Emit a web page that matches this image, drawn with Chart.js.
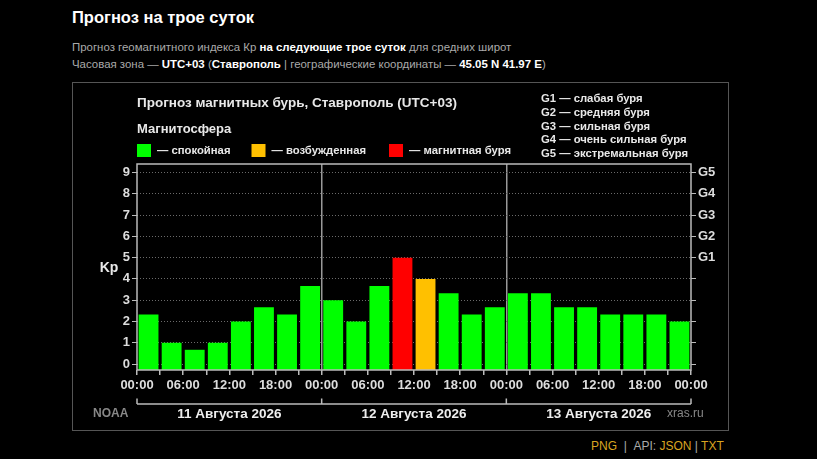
<!DOCTYPE html>
<html lang="ru">
<head>
<meta charset="utf-8">
<title>Прогноз на трое суток</title>
<script src="https://cdn.jsdelivr.net/npm/chart.js@4.4.1/dist/chart.umd.min.js"></script>
<style>
  body { margin: 0; background: #000; width: 817px; height: 459px; overflow: hidden;
         font-family: "Liberation Sans", Arial, sans-serif; color: #aaa; }
  h1 { position: absolute; left: 72px; top: 7px; margin: 0; font-size: 16.5px; line-height: 20px; color: #fff; }
  .sub { position: absolute; left: 72px; font-size: 11.45px; line-height: 14px; color: #aaa; white-space: nowrap; }
  .sub b { color: #fff; }
  #box { position: absolute; left: 72px; top: 82px; width: 655px; height: 347px; border: 1px solid #555; }
  #foot { position: absolute; left: 591px; top: 439px; font-size: 12px; line-height: 14px; color: #aaa; white-space: nowrap; }
  #foot span { color: #d9a520; }
</style>
</head>
<body>
<h1>Прогноз на трое суток</h1>
<div class="sub" style="top:40px">Прогноз геомагнитного индекса Кр <b>на следующие трое суток</b> для средних широт</div>
<div class="sub" style="top:57px">Часовая зона — <b>UTC+03</b> (<b>Ставрополь</b> | географические координаты — <b>45.05 N 41.97 E</b>)</div>
<div id="box"><canvas id="kpChart"></canvas></div>
<div id="foot"><span>PNG</span> &nbsp;| &nbsp;API: <span>JSON</span> | <span>TXT</span></div>

<script>
// Kp every 3 hours, 11-13 August 2026
const kpValues = [
	2.33, 1.00, 0.67, 1.00, 2.00, 2.67, 2.33, 3.67,
	3.00, 2.00, 3.67, 5.00, 4.00, 3.33, 2.33, 2.67,
	3.33, 3.33, 2.67, 2.67, 2.33, 2.33, 2.33, 2.00
];
const hourLabels = ['00:00', '06:00', '12:00', '18:00', '00:00', '06:00', '12:00', '18:00', '00:00', '06:00', '12:00', '18:00', '00:00'];
const dayLabels = ['11 Августа 2026', '12 Августа 2026', '13 Августа 2026'];
const kpTicks = [0, 1, 2, 3, 4, 5, 6, 7, 8, 9];
const gLabels = ['G1', 'G2', 'G3', 'G4', 'G5'];
const gNames = ['слабая буря', 'средняя буря', 'сильная буря', 'очень сильная буря', 'экстремальная буря'];
const levelNames = ['спокойная', 'возбужденная', 'магнитная буря'];
const levelColors = ['#00ff00', '#ffc000', '#ff0000'];
const levelLimits = [4, 5];

const barsPerDay = kpValues.length / dayLabels.length;
const FONT = '"Liberation Sans", Arial, sans-serif';
const legendOffsets = [0, 114.5, 252];

function levelOf(v) {
	if (v >= levelLimits[1]) return 2;
	if (v >= levelLimits[0]) return 1;
	return 0;
}

const decor = {
	id: 'decor',
	afterDraw(chart) {
		const ctx = chart.ctx;
		const a = chart.chartArea;
		const xs = chart.scales.x;
		ctx.save();

		// frame of the plot
		ctx.strokeStyle = '#bbb';
		ctx.lineWidth = 1.5;
		ctx.strokeRect(a.left, a.top, a.right - a.left, a.bottom - a.top);

		ctx.textBaseline = 'middle';
		ctx.fillStyle = '#e8e8e8';
		ctx.font = 'bold 13.5px ' + FONT;
		ctx.fillText('Прогноз магнитных бурь, Ставрополь (UTC+03)', a.left, 20);
		ctx.font = 'bold 13px ' + FONT;
		ctx.fillText('Магнитосфера', a.left, 46);

		// magnetosphere legend
		ctx.font = 'bold 11.3px ' + FONT;
		levelNames.forEach((name, i) => {
			const lx = a.left + legendOffsets[i];
			ctx.fillStyle = levelColors[i];
			ctx.fillRect(lx, 61, 14, 13);
			ctx.fillStyle = '#e8e8e8';
			ctx.fillText('— ' + name, lx + 20, 68);
		});

		// G scale legend
		ctx.font = 'bold 11.3px ' + FONT;
		gLabels.forEach((g, i) => {
			ctx.fillText(g + ' — ' + gNames[i], 468, 16 + i * 13.75);
		});

		ctx.font = 'bold 14px ' + FONT;
		ctx.textAlign = 'center';
		ctx.fillText('Kp', 36, (a.top + a.bottom) / 2 + 1);

		// day brackets
		ctx.strokeStyle = '#bbb';
		ctx.lineWidth = 1.5;
		ctx.beginPath();
		ctx.moveTo(xs.getPixelForValue(0), 321);
		ctx.lineTo(xs.getPixelForValue(kpValues.length), 321);
		for (let d = 0; d <= dayLabels.length; d++) {
			const px = xs.getPixelForValue(d * barsPerDay);
			ctx.moveTo(px, 321);
			ctx.lineTo(px, 315.5);
		}
		ctx.stroke();

		ctx.font = 'bold 13.5px ' + FONT;
		ctx.fillStyle = '#eee';
		dayLabels.forEach((d, i) => {
			const px = (xs.getPixelForValue(i * barsPerDay) + xs.getPixelForValue((i + 1) * barsPerDay)) / 2;
			ctx.fillText(d, px, 331);
		});

		ctx.textAlign = 'left';
		ctx.fillStyle = '#888';
		ctx.font = 'bold 12px ' + FONT;
		ctx.fillText('NOAA', 20, 331);
		ctx.font = '12px ' + FONT;
		ctx.fillText('xras.ru', 594, 331);
		ctx.restore();
	}
};

const setKpTicks = s => { s.ticks = kpTicks.map(v => ({ value: v })); };

new Chart(document.getElementById('kpChart'), {
	type: 'bar',
	data: {
		datasets: [
			{
				label: 'Kp',
				data: kpValues.map((v, i) => ({ x: i + 0.5, y: v })),
				backgroundColor: kpValues.map(v => levelColors[levelOf(v)]),
				borderWidth: 0,
				base: -0.28,
				barPercentage: 0.86,
				categoryPercentage: 1,
				yAxisID: 'y'
			}
		]
	},
	options: {
		responsive: true,
		maintainAspectRatio: false,
		animation: false,
		layout: { padding: { top: 81, left: 0, right: 0, bottom: 0 } },
		plugins: {
			legend: { display: false },
			title: { display: false },
			tooltip: { enabled: false }
		},
		scales: {
			x: {
				type: 'linear',
				min: 0,
				max: kpValues.length,
				offset: false,
				afterBuildTicks: s => { s.ticks = kpValues.concat([0]).map((_, i) => ({ value: i })); },
				afterFit: s => { s.height = 60; },
				ticks: {
					autoSkip: false,
					maxRotation: 0,
					color: '#ddd',
					font: { family: FONT, size: 13, weight: 'bold' },
					padding: 3,
					callback: v => (v % 2 === 0 ? hourLabels[v / 2] : '')
				},
				grid: {
					offset: false,
					drawOnChartArea: true,
					color: c => (c.tick && c.tick.value % barsPerDay === 0 && c.tick.value > 0 && c.tick.value < kpValues.length) ? '#999' : 'rgba(0,0,0,0)',
					lineWidth: 1.5,
					tickColor: '#bbb',
					tickLength: 5
				},
				border: { display: false }
			},
			y: {
				position: 'left',
				min: -0.28,
				max: 9.4,
				afterBuildTicks: setKpTicks,
				afterFit: s => { s.width = 64; },
				ticks: {
					color: '#ddd',
					font: { family: FONT, size: 13, weight: 'bold' },
					padding: 2
				},
				grid: {
					color: '#6a6a6a',
					lineWidth: 1,
					tickColor: '#bbb',
					tickLength: 5
				},
				border: { display: false, dash: [1, 2] }
			},
			g: {
				position: 'right',
				min: -0.28,
				max: 9.4,
				afterBuildTicks: setKpTicks,
				afterFit: s => { s.width = 37; },
				ticks: {
					color: '#ddd',
					font: { family: FONT, size: 13, weight: 'bold' },
					padding: 2,
					callback: v => (v >= 5 ? gLabels[v - 5] : '')
				},
				grid: {
					drawOnChartArea: false,
					tickColor: '#bbb',
					tickLength: 5
				},
				border: { display: false }
			}
		}
	},
	plugins: [decor]
});
</script>
</body>
</html>
